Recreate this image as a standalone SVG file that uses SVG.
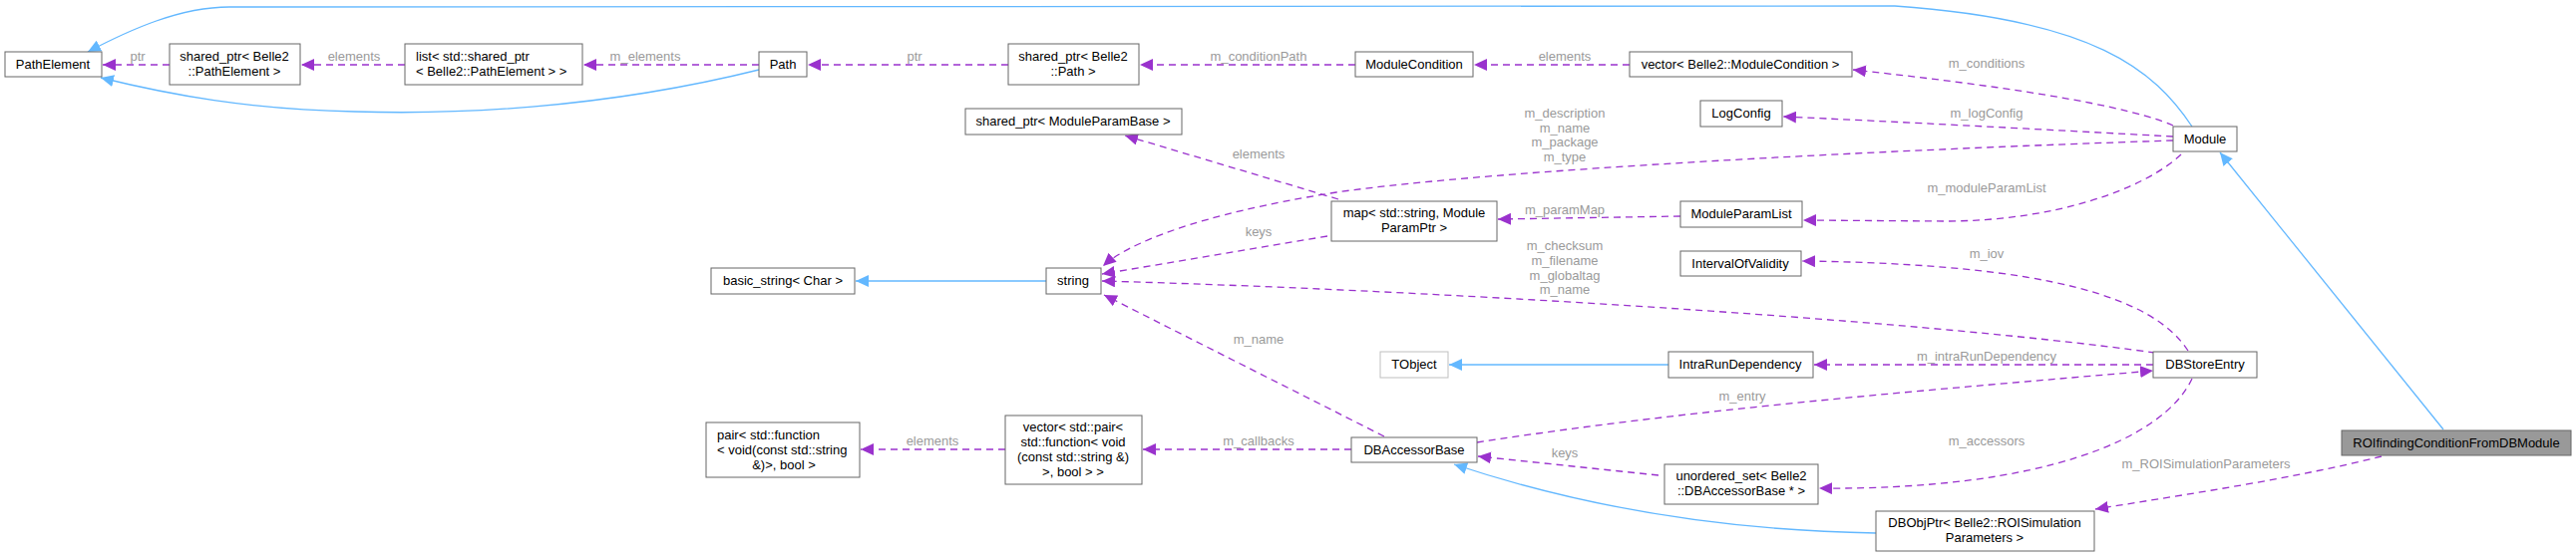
<svg xmlns="http://www.w3.org/2000/svg" width="2583" height="558" viewBox="0 0 2583 558">
<style>
.n rect{fill:#fff;stroke:#666;stroke-width:1}
.n text,.l{font-family:"Liberation Sans",Arial,sans-serif;font-size:13px}
.n text{fill:#000;text-anchor:middle}
.l{fill:#9a9a9a;text-anchor:middle}
.d{fill:none;stroke:#9a32cd;stroke-width:1.3;stroke-dasharray:7,5;marker-end:url(#pa)}
.b{fill:none;stroke:#63b8ff;stroke-width:1.3;marker-end:url(#ba)}
</style>
<defs>
<marker id="pa" markerUnits="userSpaceOnUse" markerWidth="14" markerHeight="12" refX="13" refY="6" orient="auto"><path d="M0,0L13,6L0,12z" fill="#9a32cd"/></marker>
<marker id="ba" markerUnits="userSpaceOnUse" markerWidth="14" markerHeight="12" refX="13" refY="6" orient="auto"><path d="M0,0L13,6L0,12z" fill="#63b8ff"/></marker>
</defs>
<g id="edges">
<path class="d" d="M170,65L103,65"/><text class="l" x="138" y="61">ptr</text>
<path class="d" d="M406,65L302,65"/><text class="l" x="355" y="61">elements</text>
<path class="d" d="M761,65L585,65"/><text class="l" x="647" y="61">m_elements</text>
<path class="d" d="M1011,65L810,65"/><text class="l" x="917" y="61">ptr</text>
<path class="d" d="M1359,65L1143,65"/><text class="l" x="1262" y="61">m_conditionPath</text>
<path class="d" d="M1634,65L1478,65"/><text class="l" x="1569" y="61">elements</text>
<path class="d" d="M2179,126C2120,100 1950,80 1858,70"/><text class="l" x="1992" y="68">m_conditions</text>
<path class="d" d="M2179,137C2050,130 1900,122 1788,117"/><text class="l" x="1992" y="118">m_logConfig</text>
<path class="d" d="M2179,141C1900,150 1500,170 1340,193C1200,215 1130,245 1106,267"/>
<text class="l" x="1569" y="118">m_description</text><text class="l" x="1569" y="133">m_name</text><text class="l" x="1569" y="147">m_package</text><text class="l" x="1569" y="162">m_type</text>
<path class="d" d="M2187,155C2150,190 2060,222 1950,222L1808,221"/><text class="l" x="1992" y="193">m_moduleParamList</text>
<path class="d" d="M1685,217L1502,220"/><text class="l" x="1569" y="215">m_paramMap</text>
<path class="d" d="M1342,200L1128,136"/><text class="l" x="1262" y="159">elements</text>
<path class="d" d="M1331,237L1105,275"/><text class="l" x="1262" y="237">keys</text>
<path class="d" d="M2161,354C1900,318 1400,290 1105,282"/>
<text class="l" x="1569" y="251">m_checksum</text><text class="l" x="1569" y="266">m_filename</text><text class="l" x="1569" y="281">m_globaltag</text><text class="l" x="1569" y="295">m_name</text>
<path class="d" d="M2194,352C2160,300 2060,265 1807,262"/><text class="l" x="1992" y="259">m_iov</text>
<path class="d" d="M2159,366L1819,366"/><text class="l" x="1992" y="362">m_intraRunDependency</text>
<path class="d" d="M1481,444C1700,410 1950,390 2159,372"/><text class="l" x="1747" y="402">m_entry</text>
<path class="d" d="M2198,380C2170,440 2050,492 1824,490"/><text class="l" x="1992" y="447">m_accessors</text>
<path class="d" d="M1663,477L1482,458"/><text class="l" x="1569" y="459">keys</text>
<path class="d" d="M1355,451L1146,451"/><text class="l" x="1262" y="447">m_callbacks</text>
<path class="d" d="M1008,451L863,451"/><text class="l" x="935" y="447">elements</text>
<path class="d" d="M1388,438L1107,296"/><text class="l" x="1262" y="345">m_name</text>
<path class="d" d="M2388,458C2300,480 2200,495 2101,511"/><text class="l" x="2212" y="470">m_ROISimulationParameters</text>
<path class="b" d="M1049,282L858,282"/>
<path class="b" d="M1673,366L1453,366"/>
<path class="b" d="M1881,535C1700,532 1560,500 1458,466"/>
<path class="b" d="M2450,431L2226,153"/>
<path class="b" d="M2198,127C2160,70 2100,20 1900,6L230,7C180,7 130,30 88,52"/>
<path class="b" d="M761,70C600,110 450,115 356,112C250,110 170,95 101,78"/>
</g>
<g id="PathElement" class="n"><rect x="5" y="52" width="97" height="25"/><text x="53" y="69">PathElement</text></g>
<g id="SharedPtrPathElement" class="n"><rect x="170" y="44" width="131" height="41"/><text x="235" y="61">shared_ptr&lt; Belle2</text><text x="235" y="76">::PathElement &gt;</text></g>
<g id="ListSharedPtr" class="n"><rect x="406" y="44" width="178" height="41"/><text x="417" y="61" style="text-anchor:start">list&lt; std::shared_ptr</text><text x="417" y="76" style="text-anchor:start">&lt; Belle2::PathElement &gt; &gt;</text></g>
<g id="Path" class="n"><rect x="761" y="52" width="48" height="25"/><text x="785" y="69">Path</text></g>
<g id="SharedPtrPath" class="n"><rect x="1011" y="44" width="131" height="41"/><text x="1076" y="61">shared_ptr&lt; Belle2</text><text x="1076" y="76">::Path &gt;</text></g>
<g id="ModuleCondition" class="n"><rect x="1359" y="52" width="118" height="25"/><text x="1418" y="69">ModuleCondition</text></g>
<g id="VectorModuleCondition" class="n"><rect x="1634" y="52" width="223" height="25"/><text x="1745" y="69">vector&lt; Belle2::ModuleCondition &gt;</text></g>
<g id="LogConfig" class="n"><rect x="1705" y="101" width="82" height="26"/><text x="1746" y="118">LogConfig</text></g>
<g id="Module" class="n"><rect x="2179" y="127" width="64" height="25"/><text x="2211" y="144">Module</text></g>
<g id="SharedPtrModuleParamBase" class="n"><rect x="968" y="109" width="217" height="26"/><text x="1076" y="126">shared_ptr&lt; ModuleParamBase &gt;</text></g>
<g id="MapModuleParamPtr" class="n"><rect x="1335" y="202" width="166" height="40"/><text x="1418" y="218">map&lt; std::string, Module</text><text x="1418" y="233">ParamPtr &gt;</text></g>
<g id="ModuleParamList" class="n"><rect x="1685" y="202" width="122" height="26"/><text x="1746" y="219">ModuleParamList</text></g>
<g id="IntervalOfValidity" class="n"><rect x="1685" y="252" width="121" height="25"/><text x="1745" y="269">IntervalOfValidity</text></g>
<g id="BasicString" class="n"><rect x="713" y="269" width="144" height="26"/><text x="785" y="286">basic_string&lt; Char &gt;</text></g>
<g id="String" class="n"><rect x="1049" y="269" width="55" height="26"/><text x="1076" y="286">string</text></g>
<g id="TObject" class="n"><rect x="1384" y="353" width="68" height="26" style="stroke:#bfbfbf"/><text x="1418" y="370">TObject</text></g>
<g id="IntraRunDependency" class="n"><rect x="1673" y="353" width="145" height="26"/><text x="1745" y="370">IntraRunDependency</text></g>
<g id="DBStoreEntry" class="n"><rect x="2159" y="353" width="104" height="26"/><text x="2211" y="370">DBStoreEntry</text></g>
<g id="PairFunction" class="n"><rect x="708" y="424" width="154" height="55"/><text x="719" y="441" style="text-anchor:start">pair&lt; std::function</text><text x="719" y="456" style="text-anchor:start">&lt; void(const std::string</text><text x="786" y="471">&amp;)&gt;, bool &gt;</text></g>
<g id="VectorPair" class="n"><rect x="1008" y="417" width="137" height="69"/><text x="1076" y="433">vector&lt; std::pair&lt;</text><text x="1076" y="448">std::function&lt; void</text><text x="1076" y="463">(const std::string &amp;)</text><text x="1076" y="478">&gt;, bool &gt; &gt;</text></g>
<g id="DBAccessorBase" class="n"><rect x="1355" y="439" width="126" height="25"/><text x="1418" y="456">DBAccessorBase</text></g>
<g id="UnorderedSet" class="n"><rect x="1669" y="466" width="154" height="40"/><text x="1746" y="482">unordered_set&lt; Belle2</text><text x="1746" y="497">::DBAccessorBase * &gt;</text></g>
<g id="DBObjPtr" class="n"><rect x="1881" y="513" width="219" height="40"/><text x="1990" y="529">DBObjPtr&lt; Belle2::ROISimulation</text><text x="1990" y="544">Parameters &gt;</text></g>
<g id="ROIfindingConditionFromDBModule" class="n"><rect x="2348" y="432" width="230" height="25" style="fill:#999"/><text x="2463" y="449">ROIfindingConditionFromDBModule</text></g>
</svg>
